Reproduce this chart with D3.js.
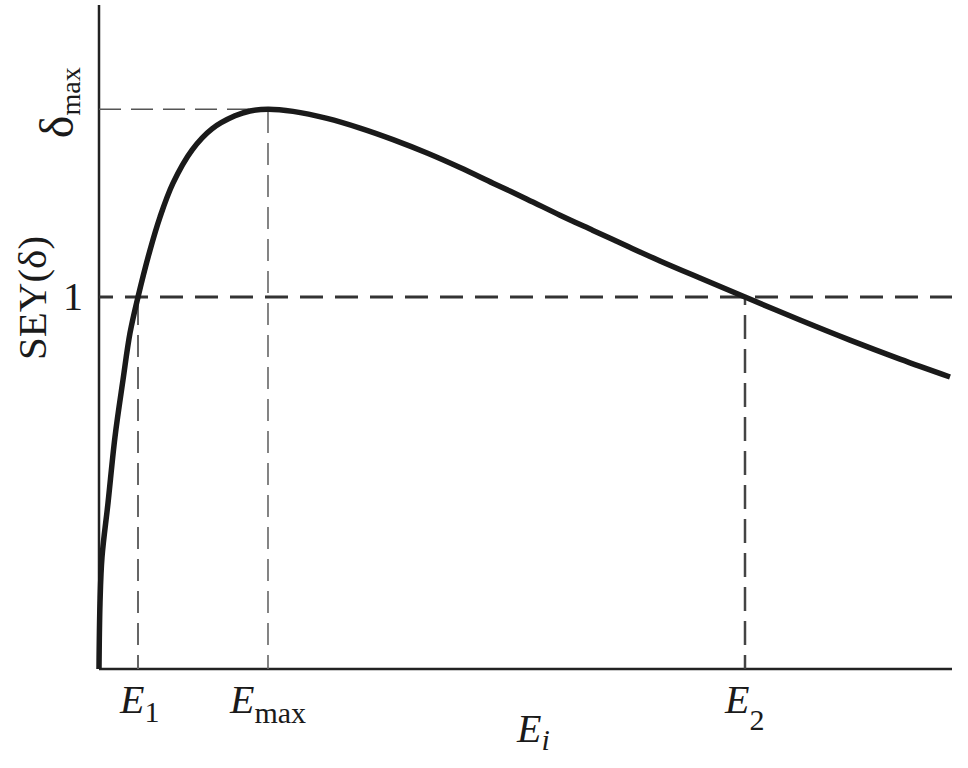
<!DOCTYPE html>
<html>
<head>
<meta charset="utf-8">
<script src="https://cdn.jsdelivr.net/npm/d3@7"></script>
<style>
  body { margin: 0; background: #fff; }
  text { font-family: "Liberation Serif", "DejaVu Serif", serif; fill: #1a1a1a; }
</style>
</head>
<body>
<script>
// SEY curve (E in arbitrary units, delta = yield)
var energy = [0, 0.117, 0.352, 1.055, 1.876, 2.814, 3.634, 4.572, 5.979, 7.151, 8.675, 10.903, 13.247, 15.944, 17.702, 19.812,
              22.743, 26.729, 30.598, 34.467, 38.453, 42.321, 46.190, 50.176, 54.045, 57.913, 61.899, 65.768, 70.457,
              75.733, 82.181, 88.042, 93.904, 99.766];
var sey = [0, 0.177, 0.301, 0.446, 0.624, 0.777, 0.903, 1.000, 1.126, 1.215, 1.306, 1.395, 1.452, 1.487, 1.500, 1.505,
           1.499, 1.480, 1.454, 1.423, 1.387, 1.348, 1.306, 1.263, 1.220, 1.179, 1.137, 1.097, 1.051,
           1.000, 0.938, 0.884, 0.833, 0.785];
// marked energies and yields
var E1 = 4.572, Emax = 19.812, E2 = 75.733;
var deltaMax = 1.505, deltaOne = 1;
var xDomain = [0, 100];
var yDomain = [0, 1.785];

var width = 968, height = 768;
var plotLeft = 99, plotRight = 952, plotTop = 5, plotBottom = 669;

var svg = d3.select('body').append('svg')
  .attr('width', width)
  .attr('height', height);

var x = d3.scaleLinear().domain(xDomain).range([plotLeft, plotRight]);
var y = d3.scaleLinear().domain(yDomain).range([plotBottom, plotTop]);

// axes
svg.append('line')
  .attr('x1', x(0)).attr('y1', y(0)).attr('x2', x(0)).attr('y2', y(yDomain[1]))
  .style('stroke', '#222').style('stroke-width', 2.5);
svg.append('line')
  .attr('x1', x(0)).attr('y1', y(0)).attr('x2', x(xDomain[1])).attr('y2', y(0))
  .style('stroke', '#222').style('stroke-width', 2.5);

// guide lines (dashes start at the axes)
svg.append('line')
  .attr('x1', x(0)).attr('y1', y(deltaMax)).attr('x2', x(Emax)).attr('y2', y(deltaMax))
  .style('stroke', '#555').style('stroke-width', 1.5).style('stroke-dasharray', '22,10');
svg.append('line')
  .attr('x1', x(Emax)).attr('y1', y(0)).attr('x2', x(Emax)).attr('y2', y(deltaMax))
  .style('stroke', '#666').style('stroke-width', 1.6).style('stroke-dasharray', '22,10')
  .style('stroke-dashoffset', 8);
svg.append('line')
  .attr('x1', x(0)).attr('y1', y(deltaOne)).attr('x2', x(xDomain[1])).attr('y2', y(deltaOne))
  .style('stroke', '#333').style('stroke-width', 3).style('stroke-dasharray', '23,12')
  .style('stroke-dashoffset', 9);
svg.append('line')
  .attr('x1', x(E1)).attr('y1', y(0)).attr('x2', x(E1)).attr('y2', y(deltaOne))
  .style('stroke', '#666').style('stroke-width', 2).style('stroke-dasharray', '22,10')
  .style('stroke-dashoffset', 8);
svg.append('line')
  .attr('x1', x(E2)).attr('y1', y(0)).attr('x2', x(E2)).attr('y2', y(deltaOne))
  .style('stroke', '#444').style('stroke-width', 2.5).style('stroke-dasharray', '24,10')
  .style('stroke-dashoffset', 10);

// curve
var points = energy.map((e, i) => [e, sey[i]]);
var line = d3.line()
  .x(d => x(d[0]))
  .y(d => y(d[1]))
  .curve(d3.curveCatmullRom.alpha(0.5));
svg.append('path')
  .attr('d', line(points))
  .attr('fill', 'none')
  .style('stroke', '#1a1a1a')
  .style('stroke-width', 5.5)
  .style('stroke-linejoin', 'round');

// y labels
svg.append('text')
  .attr('transform', 'translate(46,298) rotate(-90)')
  .attr('text-anchor', 'middle')
  .style('font-size', '41px')
  .text('SEY(δ)');
svg.append('text')
  .attr('x', x(0) - 16).attr('y', y(deltaOne) + 13)
  .attr('text-anchor', 'end')
  .style('font-size', '40px')
  .text('1');
var dm = svg.append('text')
  .attr('transform', 'translate(73,' + (y(deltaMax) + 29) + ') rotate(-90)')
  .style('font-size', '48px');
dm.append('tspan').text('δ');
dm.append('tspan').attr('dy', 7).style('font-size', '28px').text('max');

// x labels
var xLabels = [
  {v: E1, sub: '1', dx: -18, dy: 9},
  {v: Emax, sub: 'max', dx: -38, dy: 10},
  {v: E2, sub: '2', dx: -20, dy: 17}
];
xLabels.forEach(function (l) {
  var t = svg.append('text')
    .attr('x', x(l.v) + l.dx).attr('y', 713)
    .style('font-size', '40px');
  t.append('tspan').style('font-style', 'italic').text('E');
  t.append('tspan').attr('dy', l.dy).style('font-size', '30px').text(l.sub);
});
var ei = svg.append('text')
  .attr('x', 517).attr('y', 742)
  .style('font-size', '40px')
  .style('font-style', 'italic');
ei.append('tspan').text('E');
ei.append('tspan').attr('dy', 8).style('font-size', '30px').text('i');
</script>
</body>
</html>
